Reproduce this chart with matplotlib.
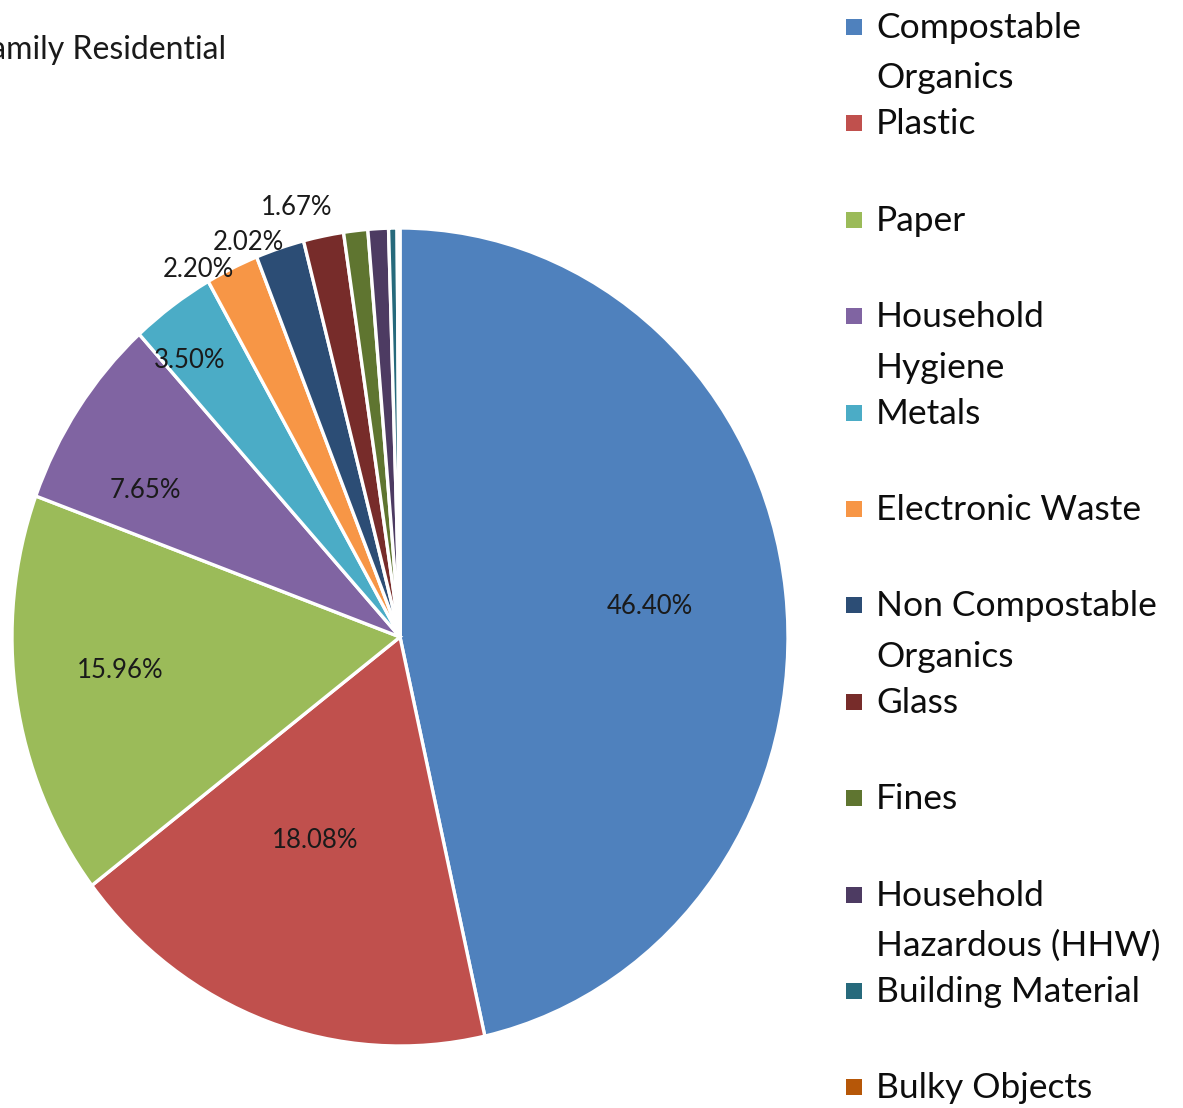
import matplotlib
matplotlib.use("Agg")
import matplotlib.pyplot as plt
from matplotlib.patches import Rectangle

plt.rcParams['font.family'] = ['Lato', 'DejaVu Sans']

categories = ["Compostable\nOrganics", "Plastic", "Paper", "Household\nHygiene", "Metals",
              "Electronic Waste", "Non Compostable\nOrganics", "Glass", "Fines",
              "Household\nHazardous (HHW)", "Building Material", "Bulky Objects"]
values = [46.40, 18.08, 15.96, 7.65, 3.50, 2.20, 2.02, 1.67, 1.00, 0.85, 0.35, 0.12]
colors = ["#4F81BD", "#C0504D", "#9BBB59", "#8064A2", "#4BACC6", "#F79646",
          "#2C4D75", "#772C2A", "#5F7530", "#4D3B62", "#276A7C", "#B65708"]
# label pixel positions for the labelled slices (first 8)
label_px = [(650, 607), (315, 841), (120, 670), (145, 491), (190, 360),
            (198, 270), (248, 243), (297, 208)]

W, H = 1183, 1108
fig = plt.figure(figsize=(W / 100, H / 100), dpi=100)

# pie axes (slightly elliptical as in the reference)
cx, cy, rx, ry = 400, 637, 388, 409
ax = fig.add_axes([(cx - rx) / W, (H - (cy + ry)) / H, 2 * rx / W, 2 * ry / H])
ax.pie(values, colors=colors, startangle=90, counterclock=False,
       wedgeprops=dict(edgecolor='white', linewidth=2.4))
ax.set_aspect('auto')
ax.set_xlim(-1, 1)
ax.set_ylim(-1, 1)
ax.axis('off')

for v, (px, py) in zip(values, label_px):
    ax.text((px - cx) / rx, (cy - py) / ry, f"{v:.2f}%", ha='center', va='center',
            fontsize=18.5, color='#1a1a1a')

# title (cut off at the left edge as in the reference)
fig.text(226 / W, 1 - 50 / H, "Single Family Residential", ha='right', va='center',
         fontsize=23, color='#1a1a1a')

# legend drawn manually
step = 96.4
base0 = 38
for i, (lab, col) in enumerate(zip(categories, colors)):
    b = base0 + i * step
    sq = 16
    fig.patches.append(Rectangle(((854 - sq / 2) / W, 1 - (b - 11 + sq / 2) / H),
                                 sq / W, sq / H, transform=fig.transFigure,
                                 facecolor=col, edgecolor='none'))
    for j, line in enumerate(lab.split("\n")):
        fig.text(876 / W, 1 - (b + j * 50.5) / H, line, ha='left', va='baseline',
                 fontsize=25.5, color='#0d0d0d')

fig.savefig("out.png", dpi=100)
